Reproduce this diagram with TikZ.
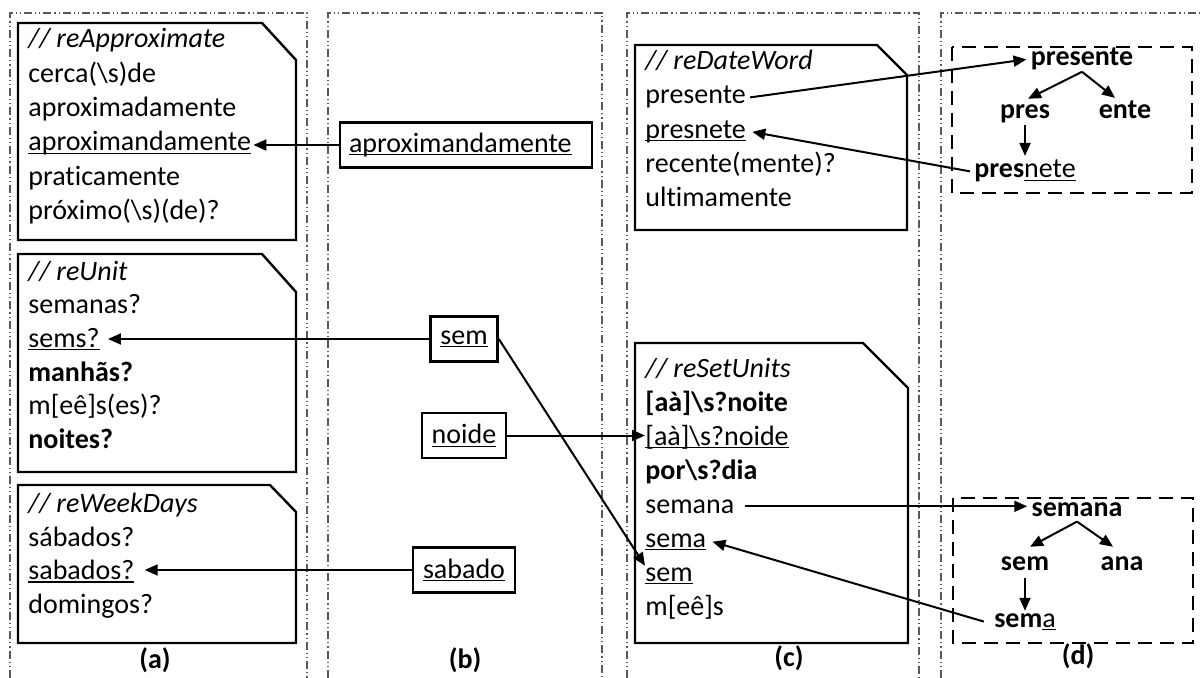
\documentclass[tikz,border=0pt]{standalone}
\usepackage{fontspec}
\setmainfont{Carlito}[Ligatures=NoCommon]
\usetikzlibrary{arrows.meta,calc}

% underline at a fixed depth below the baseline
\newcommand\uln[1]{\setbox0\hbox{#1}\rlap{\rule[-1.5pt]{\wd0}{0.55pt}}\box0}
\newcommand\bs{\textbackslash}

\tikzset{
  colframe/.style={draw=black!65, line width=0.6pt,
    dash pattern=on 4pt off 1.5pt on 0.6pt off 1.5pt on 0.6pt off 1.5pt},
  rebox/.style={draw, line width=1.2pt, line join=miter},
  ln/.style={inner sep=0pt, anchor=base west, font=\fontsize{14}{17}\selectfont},
  wordbox/.style={draw, line width=1.2pt, inner xsep=5pt, minimum height=22.5pt,
    font=\fontsize{14}{17}\selectfont},
  tnode/.style={inner sep=0pt, anchor=base, font=\fontsize{14}{17}\selectfont\bfseries},
  treebox/.style={draw, line width=1pt, dash pattern=on 7pt off 4pt},
  link/.style={line width=1pt, -{Triangle[length=6.5pt,width=5.5pt]}},
  tag/.style={font=\fontsize{14}{17}\selectfont\bfseries}
}

\begin{document}
\begin{tikzpicture}[x=0.5pt, y=-0.5pt]
\useasboundingbox (0,0) rectangle (1202,678);

% column frames, open at the bottom
\draw[colframe] (10,678) -- (10,13) -- (307,13) -- (307,678);
\draw[colframe] (328,678) -- (328,13) -- (602,13) -- (602,678);
\draw[colframe] (627,678) -- (627,13) -- (919,13) -- (919,678);
\draw[colframe] (941,678) -- (941,13) -- (1202,13);

% ---------- column (a) ----------
\draw[rebox] (18,23) -- (262,23) -- (296,60) -- (296,240) -- (18,240) -- cycle;
\node[ln] (a1h) at (28,48)  {\textit{// reApproximate}};
\node[ln] (a1l1) at (28,82.5) {cerca(\bs s)de};
\node[ln] (a1l2) at (28,117) {aproximadamente};
\node[ln] (a1l3) at (28,151) {\uln{aproximandamente}};
\node[ln] (a1l4) at (28,186) {praticamente};
\node[ln] (a1l5) at (28,220) {próximo(\bs s)(de)?};

\draw[rebox] (18,254) -- (262,254) -- (296,292) -- (296,472) -- (18,472) -- cycle;
\node[ln] (a2h) at (28,280) {\textit{// reUnit}};
\node[ln] (a2l1) at (28,313.6) {semanas?};
\node[ln] (a2l2) at (28,347) {\uln{sems?}};
\node[ln] (a2l3) at (28,381) {\textbf{manhãs?}};
\node[ln] (a2l4) at (28,414.5) {m[eê]s(es)?};
\node[ln] (a2l5) at (28,448) {\textbf{noites?}};

\draw[rebox] (18,485) -- (270,485) -- (296,512) -- (296,643) -- (18,643) -- cycle;
\node[ln] (a3h) at (28,512) {\textit{// reWeekDays}};
\node[ln] (a3l1) at (28,546) {sábados?};
\node[ln] (a3l2) at (28,579.5) {\uln{sabados?}};
\node[ln] (a3l3) at (28,613) {domingos?};

\node[tag] (la) at (155,660) {(a)};

% ---------- column (b) ----------
\node[wordbox, text width=117pt, align=left, inner xsep=4.5pt] (bapr) at (466,145) {\uln{aproximandamente}};
\node[wordbox] (bsem) at (464,339) {\uln{sem}};
\node[wordbox] (bnoide) at (464,435.5) {\uln{noide}};
\node[wordbox] (bsab) at (464,570) {\uln{sabado}};

\node[tag] (lb) at (465,660) {(b)};

% ---------- column (c) ----------
\draw[rebox] (635,45) -- (877,45) -- (907,75) -- (907,230) -- (635,230) -- cycle;
\node[ln] (c1h) at (645,70) {\textit{// reDateWord}};
\node[ln] (cpresente) at (645,104) {presente};
\node[ln] (cpresnete) at (645,138.5) {\uln{presnete}};
\node[ln] (crecente) at (645,172.5) {recente(mente)?};
\node[ln] (cultima) at (645,207) {ultimamente};

\draw[rebox] (635,343) -- (863,343) -- (908,388) -- (908,643) -- (635,643) -- cycle;
\node[ln] (c2h) at (645,377) {\textit{// reSetUnits}};
\node[ln] (cnoite) at (645,411) {\textbf{[aà]\bs s?noite}};
\node[ln] (cnoide) at (645,445) {\uln{[aà]\bs s?noide}};
\node[ln] (cpordia) at (645,479) {\textbf{por\bs s?dia}};
\node[ln] (csemana) at (645,513) {semana};
\node[ln] (csema) at (645,547) {\uln{sema}};
\node[ln] (csem) at (645,581) {\uln{sem}};
\node[ln] (cmes) at (645,615) {m[eê]s};

\node[tag] (lc) at (789,658) {(c)};

% ---------- column (d) ----------
\draw[treebox] (952,47) rectangle (1192,193);
\node[tnode] (dpresente) at (1082,66) {presente};
\node[tnode] (dpres) at (1025,119) {pres};
\node[tnode] (dente) at (1125,119) {ente};
\node[tnode] (dpresnete) at (1025,178) {pres\mdseries\uln{nete}};
\draw[link] ([yshift=-0.5pt]dpresente.south) -- ([xshift=1.5pt,yshift=3pt]dpres.north);
\draw[link] ([yshift=-0.5pt]dpresente.south) -- ([xshift=-5pt,yshift=1.5pt]dente.north);
\draw[link] ([yshift=-0.5pt]dpres.south) -- ([yshift=2pt]dpresnete.north);

\draw[treebox] (953,498) rectangle (1193,643);
\node[tnode] (dsemana) at (1077,516) {semana};
\node[tnode] (dsem) at (1025,570) {sem};
\node[tnode] (dana) at (1122,570) {ana};
\node[tnode] (dsema) at (1025,627) {sem\mdseries\uln{a}};
\draw[link] ([yshift=-2.5pt]dsemana.south) -- ([xshift=2.5pt,yshift=4.5pt]dsem.north);
\draw[link] ([yshift=-2.5pt]dsemana.south) -- ([xshift=-4.5pt,yshift=4.5pt]dana.north);
\draw[link] ([yshift=-3.5pt]dsem.south) -- ([yshift=1pt]dsema.north);

\node[tag] (ld) at (1078,656) {(d)};

% ---------- connectors between columns ----------
\draw[link] (bapr.west) -- ([xshift=1pt]bapr.west -| a1l3.east);
\draw[link] (bsem.west) -- ([xshift=4pt]bsem.west -| a2l2.east);
\draw[link] (bsab.west) -- ([xshift=5pt]bsab.west -| a3l2.east);
\draw[link] (bsem.east) -- ([yshift=5pt]csem.west);
\draw[link] (bnoide.east) -- (bnoide.east -| cnoide.west);
\draw[link] ([xshift=2pt]cpresente.east) -- ([xshift=-2pt]dpresente.west);
\draw[link] ([xshift=-2pt]dpresnete.west) -- ([xshift=3pt]cpresnete.east);
\draw[link] ([xshift=5pt]csemana.east) -- ([xshift=-2pt]csemana.east -| dsemana.west);
\draw[link] ([xshift=-5pt]dsema.west) -- ([xshift=3pt]csema.east);
\end{tikzpicture}
\end{document}
